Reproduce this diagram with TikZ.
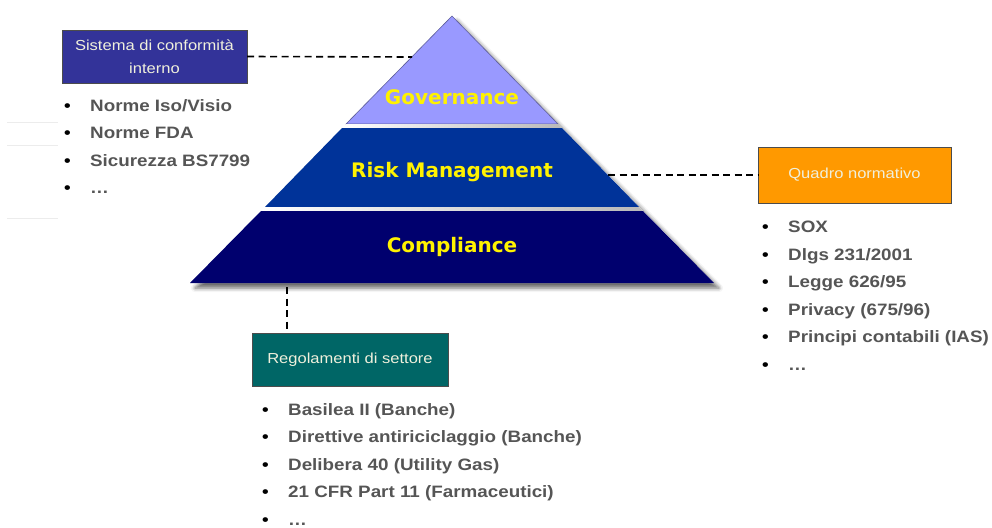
\documentclass[tikz,border=0pt]{standalone}
\usepackage{fontspec}
\setmainfont{Liberation Sans}[FakeStretch=1.14]
\newfontfamily\tierfont{DejaVu Sans}
\usepackage{tikz}
\usetikzlibrary{
    positioning,
    calc,
    shadows.blur
}
\usepackage{xcolor}
\definecolor{govblue}{RGB}{153,153,255}
\definecolor{riskblue}{RGB}{0,51,153}
\definecolor{compnavy}{RGB}{0,0,110}
\definecolor{sysblue}{RGB}{51,51,153}
\definecolor{quadorange}{RGB}{255,153,0}
\definecolor{regteal}{RGB}{0,102,102}
\definecolor{listgray}{RGB}{85,85,85}
\definecolor{boxtext}{RGB}{240,240,220}
\newcommand{\blt}{\makebox[26pt][l]{\textcolor{black}{\textbullet}}}

\begin{document}
\begin{tikzpicture}[
    x=1pt, y=-1pt,
    tier/.style={
        font=\tierfont\bfseries\fontsize{20}{24}\selectfont,
        text=yellow, inner sep=0pt
    },
    box/.style={
        rectangle, draw=gray!60!black, inner sep=0pt,
        align=center, text=boxtext,
        font=\fontsize{14.5}{22.5}\selectfont
    },
    list/.style={
        anchor=north west, align=left, inner sep=0pt, text=listgray,
        font=\bfseries\fontsize{16.5}{27.5}\selectfont
    },
    link/.style={draw=black, line width=1.6pt, dash pattern=on 7pt off 4.5pt},
    faint/.style={draw=gray!15, line width=1pt},
    band/.style={left color=white, right color=gray!55}
]
\useasboundingbox (0,0) rectangle (992,527);

% faint rules on the left
\draw[faint] (7,122) -- (58,122);
\draw[faint] (7,145) -- (58,145);
\draw[faint] (7,218) -- (58,218);

% Pyramid
\path[fill=white, blur shadow={shadow xshift=5pt, shadow yshift=-5pt, shadow blur radius=4pt, shadow opacity=60}]
    (452,16) -- (714,283) -- (190,283) -- cycle;
\fill[govblue, draw=govblue!60!black, line width=0.6pt] (452,16) -- (558,124) -- (346,124) -- cycle;
\shade[band] (346,124) -- (558,124) -- (562,128) -- (342,128) -- cycle;
\fill[riskblue] (342,128) -- (562,128) -- (639,207) -- (265,207) -- cycle;
\shade[band] (265,207) -- (639,207) -- (643,211) -- (261,211) -- cycle;
\fill[compnavy] (261,211) -- (643,211) -- (714,283) -- (190,283) -- cycle;

\node[tier] (gov) at (452,97) {Governance};
\node[tier] (risk) at (452,172) {Risk Management};
\node[tier] (comp) at (452,247) {Compliance};

% connector ends on the pyramid
\coordinate (govL) at (412,57);
\coordinate (riskR) at (608,175);
\coordinate (compB) at (287,287);

% Boxes
\node[box, fill=sysblue, minimum width=185pt, minimum height=53pt] (sistema) at (154.5,56.5) {Sistema di conformità\\interno};
\node[box, fill=quadorange, minimum width=193pt, minimum height=56pt] (quadro) at (854.5,175) {Quadro normativo};
\node[box, fill=regteal, minimum width=196pt, minimum height=53pt] (regol) at (350,359.5) {Regolamenti di settore};

% Links
\draw[link] (sistema.east) -- (govL);
\draw[link] (riskR) -- (quadro.west);
\draw[link] (compB) -- (compB |- regol.north);

% Lists
\node[list] (sistemaList) at (64,99) {\blt Norme Iso/Visio\\\blt Norme FDA\\\blt Sicurezza BS7799\\\blt \ldots};
\node[list] (quadroList) at (762,221) {\blt SOX\\\blt Dlgs 231/2001\\\blt Legge 626/95\\\blt Privacy (675/96)\\\blt Principi contabili (IAS)\\\blt \ldots};
\node[list] (regolList) at (262,403) {\blt Basilea II (Banche)\\\blt Direttive antiriciclaggio (Banche)\\\blt Delibera 40 (Utility Gas)\\\blt 21 CFR Part 11 (Farmaceutici)\\\blt \ldots};

\end{tikzpicture}
\end{document}
